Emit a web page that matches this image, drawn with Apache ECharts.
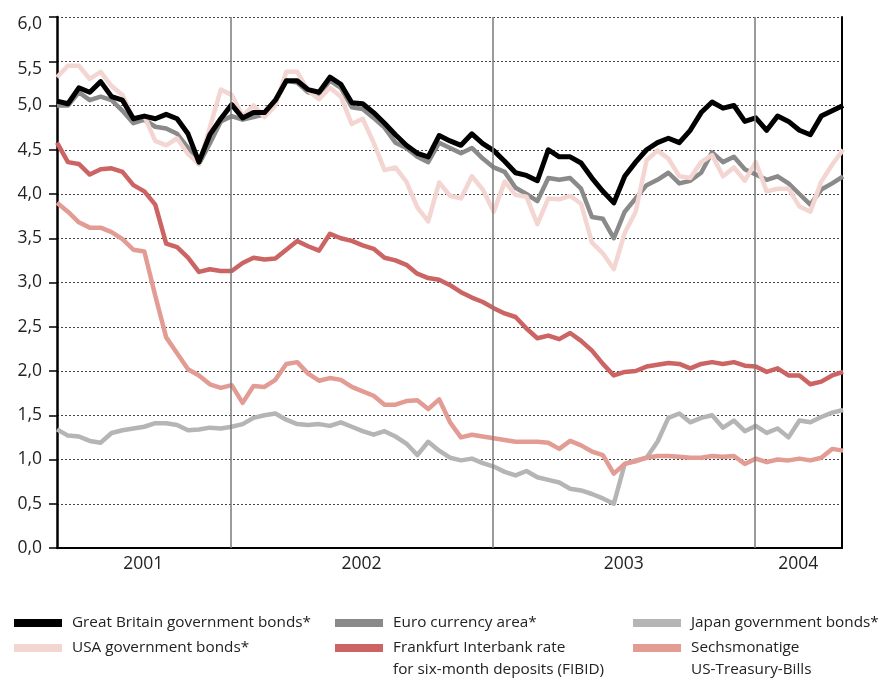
<!DOCTYPE html>
<html lang="en" style="height: 100%;margin: 0;background-color: #ffffff;">
<head>
    <meta charset="UTF-8">
    <title>chart</title>
</head>
<body style="height: 100%;margin: 0;background-color: #ffffff;">
<div id="chart" style="width: 891px;height: 678px;margin: 0;"></div>
<script src="https://cdn.jsdelivr.net/npm/echarts@6/dist/echarts.min.js"></script>
<script>
    // x = months since Jan 2001, one value every half month
    var startMonth = 4.05;
    var stepMonth = 0.5;
    var yearBreaks = [12, 24, 36];
    var yearCenters = [8, 18, 30, 38];
    var yearLabels = ["2001", "2002", "2003", "2004"];

    var gbBonds = [5.05, 5.02, 5.20, 5.15, 5.27, 5.10, 5.06, 4.85, 4.88, 4.85, 4.90, 4.85, 4.68, 4.36, 4.67, 4.85, 5.01,
        4.86, 4.92, 4.92, 5.06, 5.28, 5.28, 5.18, 5.15, 5.32, 5.24, 5.03, 5.02, 4.92, 4.80, 4.67, 4.55, 4.46, 4.42,
        4.66, 4.60, 4.55, 4.68, 4.57, 4.49, 4.37, 4.24, 4.21, 4.15, 4.50, 4.42, 4.42, 4.35, 4.18, 4.03, 3.90, 4.20, 4.36, 4.50,
        4.58, 4.63, 4.58, 4.72, 4.92, 5.04, 4.97, 5.00, 4.82, 4.86, 4.72, 4.88, 4.82, 4.72, 4.67, 4.88, 4.94, 5.00];
    var euroArea = [5.00, 5.00, 5.15, 5.06, 5.10, 5.06, 4.94, 4.80, 4.84, 4.76, 4.74, 4.68, 4.52, 4.34, 4.57, 4.82, 4.88,
        4.84, 4.87, 4.90, 5.04, 5.28, 5.26, 5.15, 5.12, 5.28, 5.20, 4.98, 4.96, 4.86, 4.75, 4.58, 4.52, 4.42, 4.36,
        4.58, 4.52, 4.46, 4.52, 4.40, 4.30, 4.25, 4.07, 4.00, 3.92, 4.18, 4.16, 4.18, 4.06, 3.74, 3.72, 3.50, 3.80, 3.95, 4.10,
        4.16, 4.24, 4.12, 4.15, 4.24, 4.47, 4.36, 4.42, 4.28, 4.22, 4.16, 4.20, 4.12, 4.00, 3.88, 4.05, 4.12, 4.20];
    var usaBonds = [5.32, 5.45, 5.45, 5.30, 5.38, 5.22, 5.12, 4.85, 4.88, 4.60, 4.55, 4.63, 4.45, 4.34, 4.75, 5.18, 5.12,
        4.88, 5.00, 4.87, 5.00, 5.38, 5.38, 5.17, 5.07, 5.20, 5.10, 4.79, 4.85, 4.58, 4.27, 4.30, 4.14, 3.85, 3.69,
        4.13, 3.98, 3.95, 4.20, 4.05, 3.80, 4.14, 3.99, 3.97, 3.66, 3.95, 3.94, 3.98, 3.89, 3.45, 3.33, 3.15, 3.56, 3.80, 4.38,
        4.49, 4.40, 4.20, 4.18, 4.36, 4.44, 4.20, 4.30, 4.15, 4.36, 4.03, 4.06, 4.06, 3.86, 3.80, 4.14, 4.33, 4.50];
    var fibid = [4.58, 4.36, 4.34, 4.22, 4.28, 4.29, 4.25, 4.10, 4.03, 3.88, 3.44, 3.40, 3.28, 3.12, 3.15, 3.13, 3.13,
        3.22, 3.28, 3.26, 3.27, 3.37, 3.47, 3.41, 3.36, 3.55, 3.50, 3.47, 3.42, 3.38, 3.28, 3.25, 3.20, 3.10, 3.05,
        3.03, 2.97, 2.89, 2.83, 2.78, 2.71, 2.65, 2.61, 2.48, 2.37, 2.40, 2.36, 2.43, 2.34, 2.23, 2.08, 1.95, 1.99, 2.00, 2.05,
        2.07, 2.09, 2.08, 2.03, 2.08, 2.10, 2.08, 2.10, 2.06, 2.05, 1.99, 2.03, 1.95, 1.95, 1.85, 1.88, 1.95, 1.99];
    var japanBonds = [1.34, 1.27, 1.26, 1.21, 1.19, 1.30, 1.33, 1.35, 1.37, 1.41, 1.41, 1.39, 1.33, 1.34, 1.36, 1.35, 1.37,
        1.40, 1.47, 1.50, 1.52, 1.45, 1.40, 1.39, 1.40, 1.38, 1.42, 1.37, 1.32, 1.28, 1.32, 1.26, 1.18, 1.05, 1.20,
        1.10, 1.02, 0.99, 1.01, 0.96, 0.92, 0.86, 0.82, 0.87, 0.80, 0.77, 0.74, 0.67, 0.65, 0.61, 0.56, 0.50, 0.95, 0.99, 1.02,
        1.20, 1.47, 1.52, 1.42, 1.47, 1.50, 1.36, 1.44, 1.32, 1.38, 1.30, 1.35, 1.25, 1.44, 1.42, 1.48, 1.53, 1.56];
    var tBills = [3.90, 3.80, 3.68, 3.62, 3.62, 3.57, 3.49, 3.37, 3.35, 2.85, 2.38, 2.20, 2.02, 1.95, 1.85, 1.81, 1.84,
        1.64, 1.83, 1.82, 1.90, 2.08, 2.10, 1.97, 1.89, 1.92, 1.90, 1.82, 1.77, 1.72, 1.62, 1.62, 1.66, 1.67, 1.57,
        1.68, 1.42, 1.25, 1.28, 1.26, 1.24, 1.22, 1.20, 1.20, 1.20, 1.19, 1.12, 1.21, 1.16, 1.09, 1.05, 0.84, 0.95, 0.98, 1.02,
        1.04, 1.04, 1.03, 1.02, 1.02, 1.04, 1.03, 1.04, 0.95, 1.01, 0.97, 1.00, 0.99, 1.01, 0.99, 1.02, 1.12, 1.10];

    var names = {
        gb: "Great Britain government bonds*",
        usa: "USA government bonds*",
        euro: "Euro currency area*",
        fibid: "Frankfurt Interbank rate for six-month deposits (FIBID)",
        japan: "Japan government bonds*",
        tbills: "Sechsmonatige US-Treasury-Bills"
    };
    var legendText = {};
    legendText[names.fibid] = "\u00a0\nFrankfurt Interbank rate\nfor six-month deposits (FIBID)";
    legendText[names.tbills] = "\u00a0\nSechsmonatige\nUS-Treasury-Bills";

    var chart = echarts.init(document.getElementById("chart"), null, {renderer: 'canvas'});

    function toPoints(values) {
        return values.map(function (v, i) {
            return [startMonth + i * stepMonth, v];
        });
    }

    function line(name, values, color, width) {
        return {
            name: name,
            type: 'line',
            data: toPoints(values),
            symbol: 'none',
            color: color,
            lineStyle: {color: color, width: width, join: 'round'}
        };
    }

    function legendItem(name, left, top) {
        return {
            data: [name],
            left: left,
            top: top,
            orient: 'vertical',
            padding: 0,
            icon: 'rect',
            itemWidth: 48,
            itemHeight: 8,
            selectedMode: false,
            formatter: function (n) {
                return legendText[n] || n;
            },
            textStyle: {
                fontFamily: 'Open Sans',
                fontSize: 15.3,
                lineHeight: 22,
                color: '#222',
                padding: [0, 0, 0, 5]
            }
        };
    }

    var japanSeries = line(names.japan, japanBonds, '#b5b5b5', 4.5);
    japanSeries.markLine = {
        silent: true,
        symbol: ['none', 'none'],
        label: {show: false},
        lineStyle: {color: '#7a7a7a', width: 1.5, type: 'solid'},
        data: yearBreaks.map(function (v) {
            return {xAxis: v};
        })
    };

    var option = {
        animation: false,
        backgroundColor: '#ffffff',
        grid: {left: 57, right: 49, top: 17, bottom: 130},
        xAxis: {
            type: 'value',
            min: startMonth,
            max: 40,
            axisLine: {show: true, onZero: false, lineStyle: {color: '#000', width: 2}},
            axisTick: {show: false},
            splitLine: {show: false},
            axisLabel: {
                customValues: yearCenters,
                margin: 7,
                fontFamily: 'Open Sans',
                fontSize: 17.5,
                color: '#222',
                formatter: function (v) {
                    var k = yearCenters.indexOf(v);
                    return k >= 0 ? yearLabels[k] : '';
                }
            }
        },
        yAxis: [{
            type: 'value',
            min: 0,
            max: 6,
            interval: 0.5,
            axisLine: {show: true, lineStyle: {color: '#000', width: 2.5}},
            axisTick: {show: true, length: 8, lineStyle: {color: '#000', width: 1.5}},
            axisLabel: {
                margin: 15,
                fontFamily: 'Open Sans',
                fontSize: 17.5,
                color: '#222',
                formatter: function (v) {
                    var s = v.toFixed(1).replace('.', ',');
                    // the two top labels sit a little below their ticks
                    return v >= 5.5 ? '{low|' + s + '}' : s;
                },
                rich: {
                    low: {
                        fontFamily: 'Open Sans',
                        fontSize: 17.5,
                        color: '#222',
                        padding: [15, 0, 0, 0]
                    }
                }
            },
            splitLine: {show: true, lineStyle: {color: '#444', width: 1, type: [2, 2]}}
        }, {
            type: 'value',
            position: 'right',
            min: 0,
            max: 6,
            interval: 0.5,
            axisLine: {show: true, lineStyle: {color: '#000', width: 2}},
            axisTick: {show: false},
            axisLabel: {show: false},
            splitLine: {show: false}
        }],
        legend: [
            legendItem(names.gb, 14, 612),
            legendItem(names.usa, 14, 637),
            legendItem(names.euro, 335, 612),
            legendItem(names.fibid, 335, 615),
            legendItem(names.japan, 633, 612),
            legendItem(names.tbills, 633, 615)
        ],
        series: [
            japanSeries,
            line(names.tbills, tBills, '#e29c94', 4.5),
            line(names.fibid, fibid, '#cc6464', 4.5),
            line(names.euro, euroArea, '#8a8a8a', 4.5),
            line(names.usa, usaBonds, '#f3d5d1', 4.5),
            line(names.gb, gbBonds, '#000000', 5)
        ]
    };
    chart.setOption(option, true);
</script>
</body>
</html>
